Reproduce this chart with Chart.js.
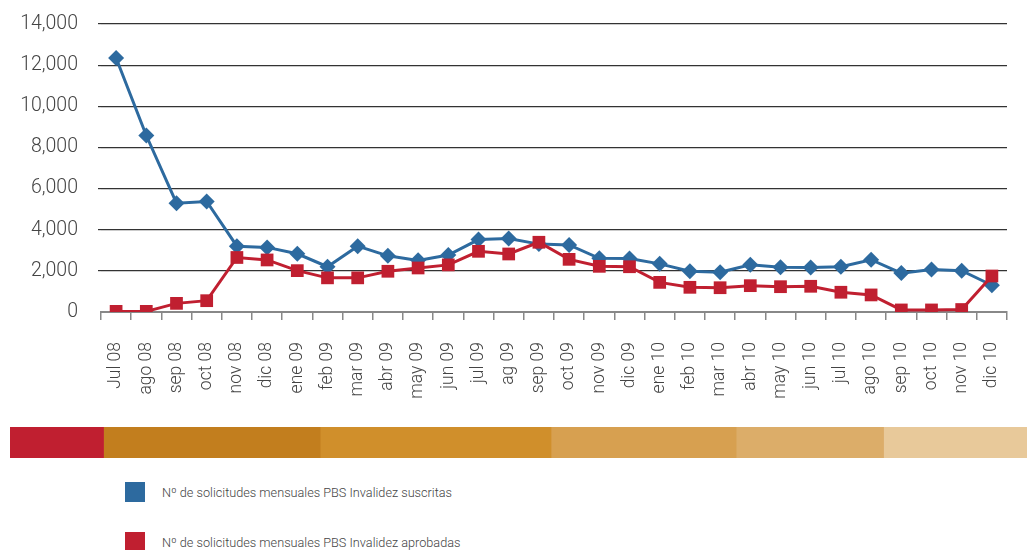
<!DOCTYPE html>
<html>
<head>
<meta charset="utf-8">
<script src="https://cdn.jsdelivr.net/npm/chart.js@4.4.1/dist/chart.umd.min.js"></script>
<style>
  html, body { margin: 0; padding: 0; background: #fff; }
  body { width: 1027px; height: 550px; position: relative; overflow: hidden; font-family: Roboto, sans-serif; }
  #main { position: absolute; left: 0; top: 0; width: 1027px; height: 420px; }
  #band { position: absolute; left: 10px; top: 427px; width: 1017px; height: 31px; }
  .leg { position: absolute; left: 125px; width: 420px; height: 20px; }
  .leg .sw { position: absolute; left: 0; top: 0; width: 20px; height: 20px; }
  .leg .tx { position: absolute; left: 37px; top: 0; line-height: 22px; font-size: 12.7px; font-weight: 300; color: #444; white-space: nowrap; }
</style>
</head>
<body>
<div id="main"><canvas id="c1"></canvas></div>
<div id="band"><canvas id="c2"></canvas></div>
<div class="leg" style="top:482px"><div class="sw" style="background:#2D6A9F"></div><div class="tx" id="l1"></div></div>
<div class="leg" style="top:532px"><div class="sw" style="background:#C01F30"></div><div class="tx" id="l2"></div></div>
<script>
const categories = ["Jul 08","ago 08","sep 08","oct 08","nov 08","dic 08","ene 09","feb 09","mar 09","abr 09","may 09","jun 09","jul 09","ag 09","sep 09","oct 09","nov 09","dic 09","ene 10","feb 10","mar 10","abr 10","may 10","jun 10","jul 10","ago 10","sep 10","oct 10","nov 10","dic 10"];
const suscritas = [12350,8580,5290,5370,3200,3140,2830,2200,3200,2730,2510,2770,3520,3570,3300,3260,2610,2600,2340,1980,1930,2300,2170,2160,2200,2540,1890,2070,2010,1300];
const aprobadas = [30,30,420,550,2650,2530,2010,1660,1660,1980,2140,2290,2950,2820,3390,2560,2220,2200,1440,1200,1180,1280,1230,1250,960,830,100,100,120,1750];
const seriesNames = ["Nº de solicitudes mensuales PBS Invalidez suscritas","Nº de solicitudes mensuales PBS Invalidez aprobadas"];
const yTicks = [0,2000,4000,6000,8000,10000,12000,14000];
const bandValues = [9.2,21.3,22.7,18.2,14.5,14.1];
const bandColors = ["#C01F30","#C27E1E","#D08F2B","#D7A050","#DCAD69","#E8C99A"];

document.getElementById('l1').textContent = seriesNames[0];
document.getElementById('l2').textContent = seriesNames[1];

const FONT = 'Roboto, sans-serif';
const MAIN_H = 420, AREA_BOTTOM = 312;

new Chart(document.getElementById('c1'), {
  type: 'line',
  data: {
    labels: categories,
    datasets: [
      { label: seriesNames[1], data: aprobadas, borderColor: '#C01F30', backgroundColor: '#C01F30',
        borderWidth: 3, pointStyle: 'rect', pointRadius: 9, pointBorderWidth: 0, tension: 0, order: 1 },
      { label: seriesNames[0], data: suscritas, borderColor: '#2D6A9F', backgroundColor: '#2D6A9F',
        borderWidth: 3, pointStyle: 'rectRot', pointRadius: 8, pointBorderWidth: 0, tension: 0, order: 2 }
    ]
  },
  options: {
    responsive: true, maintainAspectRatio: false, animation: false,
    layout: { padding: { top: 24, right: 20, left: 0, bottom: 0 } },
    plugins: { legend: { display: false }, tooltip: { enabled: false } },
    scales: {
      y: {
        min: 0, max: 14000,
        afterBuildTicks: s => { s.ticks = yTicks.map(v => ({ value: v })); },
        afterFit: s => { s.width = 101; s.paddingTop = 0; s.paddingBottom = 0; },
        ticks: { padding: 20, color: '#444', font: { family: FONT, size: 19.5, weight: 300 },
          callback: v => v.toLocaleString('en-US') },
        grid: { color: c => (c.tick && c.tick.value === 0) ? 'rgba(0,0,0,0)' : '#333', lineWidth: 1.2, tickLength: 3, drawTicks: true },
        border: { display: false }
      },
      x: {
        offset: true,
        afterFit: s => { s.height = MAIN_H - AREA_BOTTOM; s.paddingLeft = 0; s.paddingRight = 0; },
        ticks: { autoSkip: false, maxRotation: 90, minRotation: 90, padding: 22, color: '#444', font: { family: FONT, size: 17.5, weight: 300 } },
        grid: { drawOnChartArea: false, offset: true, tickLength: 8, color: '#888', lineWidth: 1.5 },
        border: { display: true, color: '#888', width: 2 }
      }
    }
  }
});

new Chart(document.getElementById('c2'), {
  type: 'bar',
  data: {
    labels: [''],
    datasets: bandValues.map((v, i) => ({ data: [v], backgroundColor: bandColors[i], borderWidth: 0, barPercentage: 1, categoryPercentage: 1 }))
  },
  options: {
    indexAxis: 'y', responsive: true, maintainAspectRatio: false, animation: false,
    layout: { padding: 0 },
    plugins: { legend: { display: false }, tooltip: { enabled: false } },
    scales: {
      x: { stacked: true, display: false, min: 0, max: bandValues.reduce((a, b) => a + b, 0) },
      y: { stacked: true, display: false }
    }
  }
});
</script>
</body>
</html>
